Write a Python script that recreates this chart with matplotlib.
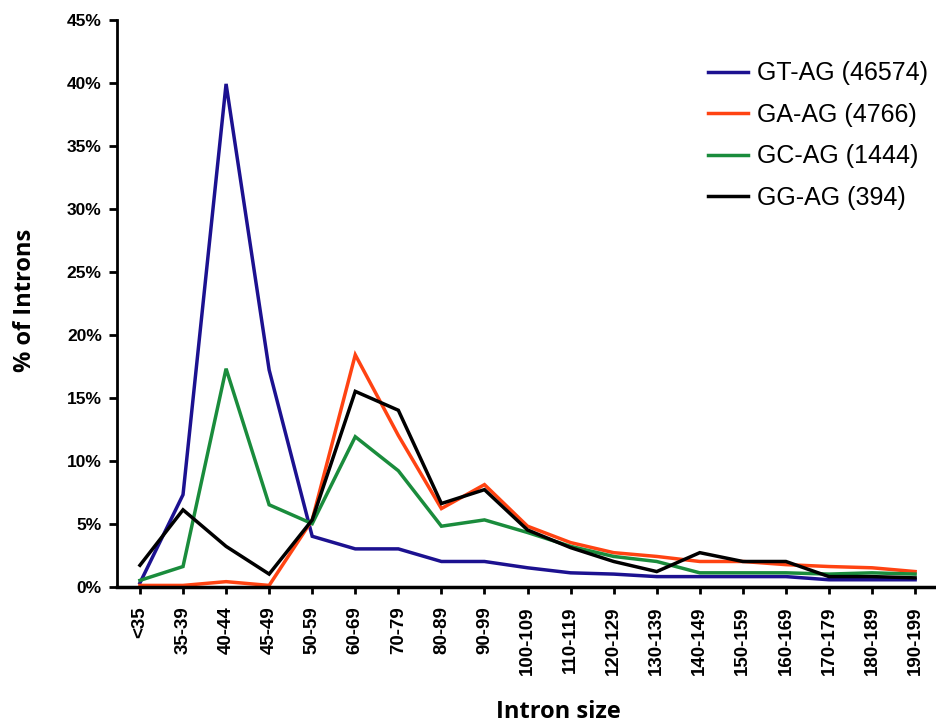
import matplotlib
matplotlib.use("Agg")
import matplotlib.pyplot as plt
import numpy as np

# intron size bins
size_bins = ["<35", "35-39", "40-44", "45-49", "50-59", "60-69", "70-79",
             "80-89", "90-99", "100-109", "110-119", "120-129", "130-139",
             "140-149", "150-159", "160-169", "170-179", "180-189", "190-199"]

# % of introns per size bin, one list per splice-site class
gt_ag = [0.3, 7.3, 39.9, 17.2, 4.0, 3.0, 3.0, 2.0, 2.0, 1.5, 1.1, 1.0,
         0.8, 0.8, 0.8, 0.8, 0.55, 0.55, 0.55]
ga_ag = [0.1, 0.1, 0.4, 0.1, 5.3, 18.4, 12.0, 6.2, 8.1, 4.8, 3.5, 2.7,
         2.4, 2.0, 2.0, 1.75, 1.6, 1.5, 1.2]
gc_ag = [0.5, 1.6, 17.3, 6.5, 5.0, 11.9, 9.2, 4.8, 5.3, 4.3, 3.2, 2.4,
         2.0, 1.1, 1.1, 1.1, 1.0, 1.1, 1.0]
gg_ag = [1.7, 6.1, 3.2, 1.0, 5.3, 15.5, 14.0, 6.6, 7.7, 4.5, 3.1, 2.0,
         1.2, 2.7, 2.0, 2.0, 0.8, 0.8, 0.7]

series = [
    ("GT-AG (46574)", gt_ag, "#1c1190"),
    ("GA-AG (4766)", ga_ag, "#ff4312"),
    ("GC-AG (1444)", gc_ag, "#1a8c3c"),
    ("GG-AG (394)", gg_ag, "#000000"),
]

plt.rcParams["font.family"] = ["Liberation Sans", "DejaVu Sans"]
label_font = ["Open Sans", "DejaVu Sans"]

fig = plt.figure(figsize=(9.37, 7.27), dpi=100)
ax = fig.add_axes([0.125, 0.193, 0.876, 0.780])

x = np.arange(len(size_bins))
for label, vals, color in series:
    ax.plot(x, vals, color=color, lw=2.5, label=label, solid_joinstyle="miter")

ax.set_xlim(-0.53, len(size_bins) - 0.47)
ax.set_ylim(0, 45)
ax.set_yticks(np.arange(0, 46, 5))
ax.set_yticklabels([f"{v}%" for v in range(0, 46, 5)],
                   fontsize=12.5, fontweight="bold")
ax.set_xticks(x)
ax.set_xticklabels(size_bins, rotation=90, fontsize=13.5, fontweight="bold")

for side in ("top", "right"):
    ax.spines[side].set_visible(False)
ax.spines["left"].set_linewidth(2)
ax.spines["bottom"].set_linewidth(2.5)
ax.tick_params(axis="y", direction="out", length=6, width=2, pad=5)
ax.tick_params(axis="x", direction="out", length=5, width=2, pad=9)

ax.set_ylabel("% of Introns", fontsize=17, family=label_font,
              fontweight="bold")
ax.yaxis.set_label_coords(-0.098, 0.505)
ax.set_xlabel("Intron size", fontsize=17, family=label_font,
              fontweight="bold")
ax.xaxis.set_label_coords(0.537, -0.199)

ax.legend(loc="upper left", bbox_to_anchor=(0.708, 0.944), frameon=False,
          borderaxespad=0, fontsize=18, handlelength=1.6,
          handletextpad=0.36, labelspacing=0.70)

fig.savefig("out.png", dpi=100)
